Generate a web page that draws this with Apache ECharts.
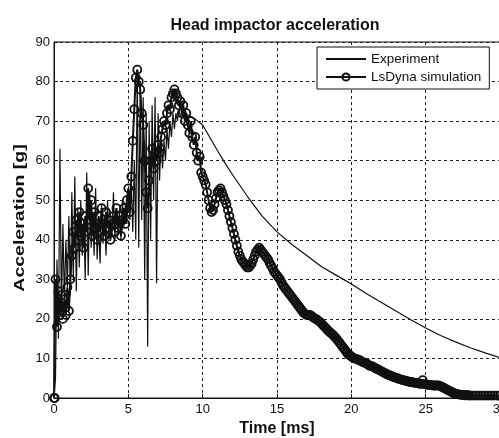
<!DOCTYPE html>
<html><head><meta charset="utf-8">
<script src="https://cdn.jsdelivr.net/npm/echarts@6/dist/echarts.min.js"></script>
<style>html,body{margin:0;padding:0;background:#fff}#c{width:499px;height:438px}</style>
</head><body><div id="c"></div>
<script>
var titleText = 'Head impactor acceleration';
var xName = 'Time [ms]';
var yName = 'Acceleration [g]';
var seriesNames = ['Experiment', 'LsDyna simulation'];
var xTicks = [0, 5, 10, 15, 20, 25, 30];
var yTicks = [0, 10, 20, 30, 40, 50, 60, 70, 80, 90];

// Experiment: [time ms, acceleration g]
var experiment = [
[0,0],[0.1,5],[0.2,35],[0.3,15],[0.4,63],[0.5,22],[0.6,44],[0.7,24],[0.8,40],[0.9,28],
[1.0,46],[1.1,26],[1.2,52],[1.3,30],[1.4,56],[1.5,27],[1.6,48],[1.7,33],[1.8,50],[1.9,36],
[2.0,45],[2.1,30],[2.2,57],[2.3,31],[2.4,52],[2.5,38],[2.6,47],[2.7,36],[2.8,53],[2.9,35],
[3.0,44],[3.1,34],[3.2,49],[3.3,39],[3.4,46],[3.5,36],[3.6,50],[3.7,40],[3.8,45],[3.9,41],
[4.0,52],[4.1,40],[4.2,48],[4.3,42],[4.4,47],[4.5,40],[4.6,50],[4.7,43],[4.8,49],[4.9,44],
[5.0,52],[5.1,45],[5.2,54],[5.3,42],[5.4,60],[5.5,40],[5.6,83],[5.7,38],[5.8,80],[5.9,45],
[6.0,76],[6.1,30],[6.2,72],[6.3,13],[6.4,70],[6.5,40],[6.6,74],[6.7,50],[6.8,76],[6.9,29],
[7.0,72],[7.1,55],[7.2,66],[7.3,58],[7.4,65],[7.5,60],[7.6,68],[7.7,63],[7.8,70],[7.9,66],
[8.0,72],[8.1,68],[8.2,72],[8.3,70],[8.4,73],[8.5,71],[8.6,72],[8.7,71],[8.8,72],[8.9,72],
[9.0,71.5],[9.5,70.5],[10,69],[11,62.5],[11.4,60],[12,56.5],[13,51],[14,46],[15,42],[16,38.8],
[17,36],[18,33.2],[19,31],[20,28.8],[21,26.4],[22,24.2],[23,22],[24,19.8],[25,17.7],[26,15.8],
[27,14.2],[28,12.7],[29,11.4],[30,10.2]
];

// LsDyna simulation: [time ms, acceleration g]
var simulation = [
[0,0],[0.05,0],[0.1,30],[0.2,18],[0.3,27],[0.4,21],[0.5,26],[0.6,20],[0.7,25],[0.8,21],[0.9,28],
[1.0,22],[1.1,30],[1.2,36],[1.3,42],[1.4,38],[1.5,45],[1.6,40],[1.7,47],[1.8,41],[1.9,44],
[2.0,38],[2.1,46],[2.2,42],[2.3,53],[2.4,45],[2.5,50],[2.6,41],[2.7,47],[2.8,43],[2.9,40],
[3.0,46],[3.1,42],[3.2,48],[3.3,44],[3.4,41],[3.5,47],[3.6,43],[3.7,45],[3.8,40],[3.9,44],
[4.0,46],[4.1,42],[4.2,48],[4.3,43],[4.4,46],[4.5,41],[4.6,45],[4.7,48],[4.8,44],[4.9,50],
[5.0,53],[5.1,47],[5.2,56],[5.3,65],[5.4,73],[5.5,81],[5.6,83],[5.7,80],[5.8,78],[5.9,72],
[6.0,69],[6.1,60],[6.2,52],[6.3,48],[6.4,55],[6.5,60],[6.6,63],[6.7,58],[6.8,62],[6.9,60],
[7.0,64],[7.1,62],[7.2,66],[7.3,68],[7.4,70],[7.5,69],[7.6,72],[7.7,74],[7.8,73],[7.9,76],
[8.0,77],[8.1,78],[8.2,77],[8.3,76],[8.4,74],[8.5,75],[8.6,72],[8.7,74],[8.8,70],[8.9,72],
[9.0,69],[9.1,67],[9.2,70],[9.3,66],[9.4,64],[9.5,66],[9.6,62],[9.7,60],[9.8,61],[9.9,57],
[10.0,56],[10.1,55],[10.2,54],[10.3,52],[10.4,50],[10.5,48],[10.6,47],[10.7,47.5],[10.8,49],[10.9,50.5],
[11.0,52],[11.1,52.5],[11.2,53],[11.3,52],[11.4,51],[11.5,50],[11.6,49],[11.7,47.5],[11.8,46],[11.9,44.5],
[12.0,43],[12.1,41.5],[12.2,40],[12.3,38.5],[12.4,37],[12.5,36],[12.6,35],[12.7,34.5],[12.8,34],[12.9,33.5],
[13.0,33],[13.1,33],[13.2,33.5],[13.3,34],[13.4,35],[13.5,36],[13.6,37],[13.7,37.5],[13.8,38],[13.9,37.5],
[14.0,37],[14.1,36.5],[14.2,36],[14.3,35.5],[14.4,35],[14.5,34.2],[14.6,33.5],[14.7,32.8],[14.8,32],[14.9,31.5],
[15.0,31],[15.1,30.5],[15.2,30],[15.3,29.2],[15.4,28.5],[15.5,28],[15.6,27.5],[15.7,27],[15.8,26.5],[15.9,26],
[16.0,25.5],[16.1,25],[16.2,24.5],[16.3,24],[16.4,23.5],[16.5,23],[16.6,22.5],[16.7,22],[16.8,21.5],[16.9,21.2],
[17.0,21],[17.1,21],[17.2,21],[17.3,20.8],[17.4,20.5],[17.5,20.2],[17.6,20],[17.7,19.8],[17.8,19.5],[17.9,19.2],
[18.0,18.8],[18.1,18.4],[18.2,18],[18.3,17.6],[18.4,17.2],[18.5,16.8],[18.6,16.5],[18.7,16.2],[18.8,15.8],[18.9,15.4],
[19.0,15],[19.1,14.5],[19.2,14],[19.3,13.5],[19.4,13],[19.5,12.5],[19.6,12],[19.7,11.5],[19.8,11],[19.9,10.8],
[20.0,10.5],[20.1,10.2],[20.2,10],[20.3,9.9],[20.4,9.8],[20.5,9.6],[20.6,9.5],[20.7,9.2],[20.8,9],[20.9,8.9],
[21.0,8.8],[21.1,8.5],[21.2,8.2],[21.3,8.1],[21.4,8],[21.5,7.8],[21.6,7.6],[21.7,7.4],[21.8,7.2],[21.9,7],
[22.0,6.8],[22.1,6.6],[22.2,6.4],[22.3,6.2],[22.4,6],[22.5,5.8],[22.6,5.7],[22.7,5.5],[22.8,5.4],[22.9,5.2],
[23.0,5.1],[23.1,5],[23.2,4.8],[23.3,4.7],[23.4,4.6],[23.5,4.5],[23.6,4.4],[23.7,4.3],[23.8,4.2],[23.9,4.1],
[24.0,4],[24.1,4],[24.2,3.9],[24.3,3.8],[24.4,3.8],[24.5,3.7],[24.6,3.6],[24.7,3.6],[24.8,4.5],[24.9,3.5],
[25.0,3.4],[25.1,3.4],[25.2,3.3],[25.3,3.3],[25.4,3.2],[25.5,3.2],[25.6,3.1],[25.7,3.2],[25.8,3.2],[25.9,3.1],
[26.0,3],[26.1,2.8],[26.2,2.6],[26.3,2.4],[26.4,2.2],[26.5,2],[26.6,1.8],[26.7,1.6],[26.8,1.4],[26.9,1.2],
[27.0,1.1],[27.1,1],[27.2,0.9],[27.3,0.85],[27.4,0.8],[27.5,0.75],[27.6,0.7],[27.7,0.7],[27.8,0.7],[27.9,0.65],
[28.0,0.6],[28.2,0.6],[28.4,0.6],[28.6,0.6],[28.8,0.6],[29.0,0.6],[29.2,0.6],[29.4,0.6],[29.6,0.6],[29.8,0.6],[30,0.6]
];

var chart = echarts.init(document.getElementById('c'), null, {renderer: 'canvas'});
var font = 'Liberation Sans, Arial, sans-serif';
chart.setOption({
  animation: false,
  backgroundColor: '#fff',
  title: {
    text: titleText, left: 270, top: 13, textAlign: 'center',
    textStyle: {fontFamily: font, fontSize: 16, fontWeight: 'bold', color: '#111'}
  },
  graphic: [{
    type: 'text', x: 12, y: 218, rotation: Math.PI / 2, scaleX: 1.3, z: 10,
    style: {text: yName, fontFamily: font, fontSize: 15, fontWeight: 'bold', fill: '#111',
            align: 'center', verticalAlign: 'top'}
  }],
  grid: {left: 54, top: 42, width: 446, height: 356, show: true, borderColor: '#111', borderWidth: 1,
         backgroundColor: 'transparent', containLabel: false, outerBoundsMode: 'none'},
  legend: {
    orient: 'vertical', left: 317, top: 47,
    data: [{name: seriesNames[0], itemStyle: {opacity: 0}}, seriesNames[1]],
    backgroundColor: '#fff', borderColor: '#111', borderWidth: 1,
    padding: [5, 8, 5, 8], itemGap: 4, itemWidth: 40, itemHeight: 9,
    textStyle: {fontFamily: font, fontSize: 13.5, color: '#111'}
  },
  xAxis: {
    type: 'value', min: xTicks[0], max: xTicks[xTicks.length - 1], interval: 5,
    name: xName, nameLocation: 'middle', nameGap: 22,
    nameTextStyle: {fontFamily: font, fontSize: 16, fontWeight: 'bold', color: '#111'},
    axisLine: {show: true, onZero: false, lineStyle: {color: '#111', width: 1}},
    axisTick: {show: true, inside: true, length: 4, lineStyle: {color: '#111'}},
    axisLabel: {fontFamily: font, fontSize: 13, color: '#111', margin: 5},
    splitLine: {show: true, lineStyle: {color: '#222', type: [3, 3], width: 1}}
  },
  yAxis: {
    type: 'value', min: yTicks[0], max: yTicks[yTicks.length - 1], interval: 10,
    axisLine: {show: true, lineStyle: {color: '#111', width: 1}},
    axisTick: {show: true, inside: true, length: 4, lineStyle: {color: '#111'}},
    axisLabel: {fontFamily: font, fontSize: 13, color: '#111', margin: 4},
    splitLine: {show: true, lineStyle: {color: '#222', type: [3, 3], width: 1}}
  },
  series: [
    {
      name: seriesNames[0], type: 'line', data: experiment, symbol: 'none',
      lineStyle: {color: '#111', width: 1.2}, itemStyle: {color: '#111'}, z: 3
    },
    {
      name: seriesNames[1], type: 'line', data: simulation,
      symbol: 'circle', symbolSize: 8, showAllSymbol: true,
      lineStyle: {color: '#111', width: 2},
      itemStyle: {color: 'rgba(255,255,255,0)', borderColor: '#111', borderWidth: 1.8}, z: 4
    }
  ]
});
</script></body></html>
